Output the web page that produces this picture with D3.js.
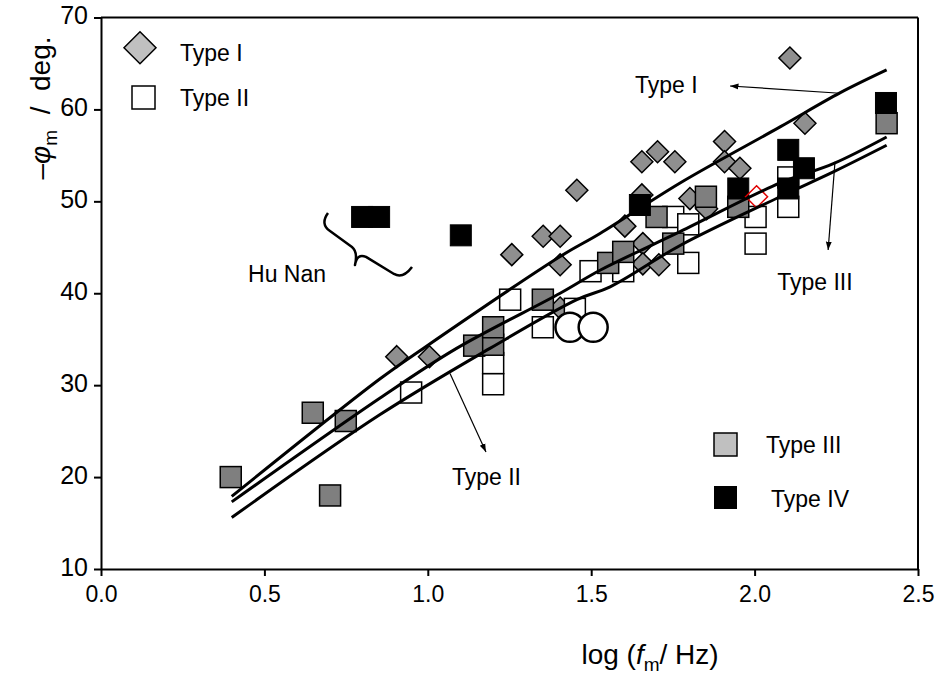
<!DOCTYPE html>
<html><head><meta charset="utf-8">
<script src="https://cdn.jsdelivr.net/npm/d3@7"></script>
<style>
body{margin:0;background:#fff;}
text{font-family:"Liberation Sans",Arial,sans-serif;fill:#000;}
</style></head>
<body><svg id="c" width="942" height="681"></svg>
<script>
// ---- data ----
const xTicks = [0.0, 0.5, 1.0, 1.5, 2.0, 2.5];
const yTicks = [10, 20, 30, 40, 50, 60, 70];

const typeI = [[0.905,33.1],[1.005,33.1],[1.257,44.2],[1.353,46.2],[1.405,46.2],[1.405,43.1],[1.405,38.4],
  [1.456,51.2],[1.603,47.3],[1.655,54.3],[1.703,55.4],[1.756,54.3],[1.655,50.7],[1.658,45.4],[1.658,43.2],
  [1.707,43.1],[1.802,50.3],[1.853,49.2],[1.908,56.5],[1.908,54.3],[1.955,53.6],[2.108,65.6],[2.154,58.5]];
const typeII = [[0.949,29.2],[1.200,32.4],[1.200,30.1],[1.252,39.3],[1.352,36.3],[1.450,38.3],[1.498,42.4],
  [1.598,42.4],[1.751,48.3],[1.797,47.5],[1.797,43.3],[2.003,48.3],[2.003,45.4],[2.103,49.4],[2.103,52.6]];
const typeIII = [[0.397,20.0],[0.648,27.0],[0.701,18.0],[0.749,26.1],[1.142,34.3],[1.200,34.4],[1.200,36.3],
  [1.352,39.3],[1.552,43.3],[1.598,44.5],[1.700,48.3],[1.751,45.4],[1.851,50.5],[1.950,49.4],[2.404,58.5]];
const typeIV = [[0.799,48.3],[0.851,48.3],[1.101,46.3],[1.649,49.6],[1.950,51.4],[2.103,55.6],[2.151,53.6],
  [2.103,51.4],[2.402,60.7]];
const circlesData = [[1.435,36.3],[1.506,36.3]];
const redDiamond = [[2.006,50.5]];

const curveTypeI = [[0.400,17.9],[0.854,30.7],[0.986,34.0],[1.405,44.0],[1.527,46.5],[1.772,52.0],[2.078,58.1],[2.261,61.8],[2.404,64.3]];
const curveTypeIII = [[0.400,17.3],[0.854,28.6],[1.088,34.0],[1.405,40.0],[1.527,42.5],[1.772,46.7],[2.078,52.0],[2.241,54.1],[2.404,57.0]];
const curveTypeII = [[0.400,15.6],[0.854,26.8],[1.190,34.0],[1.456,39.3],[1.558,40.7],[1.772,45.2],[2.078,50.5],[2.241,53.2],[2.404,56.1]];

// annotations (data units)
const annotations = [
  {text:"Type I", tx:1.634, ty:61.8, from:[2.261,61.76], to:[1.925,62.55]},
  {text:"Type III", tx:2.069, ty:40.35, from:[2.246,54.31], to:[2.225,44.70]},
  {text:"Type II", tx:1.074, ty:19.1, from:[1.068,31.28], to:[1.178,22.72]}
];
const huNan = {text:"Hu Nan", tx:0.450, ty:41.2};
const brace = [[0.6946,48.73],[0.6701,47.53],[0.7007,46.77],[0.7680,45.03],[0.7864,44.49],[0.7772,43.07],
  [0.7834,44.38],[0.8109,43.95],[0.8966,42.10],[0.9241,41.55],[0.9517,42.86]];

// ---- chart ----
const svg = d3.select("#c");
const x = d3.scaleLinear().domain([0,2.5]).range([101,918]);
const y = d3.scaleLinear().domain([10,70]).range([569,17.5]);

const defs = svg.append("defs");
defs.append("marker").attr("id","arr").attr("viewBox","0 0 10 10").attr("refX",10).attr("refY",5)
  .attr("markerWidth",7).attr("markerHeight",7).attr("orient","auto-start-reverse")
  .append("path").attr("d","M0,1.5 L10,5 L0,8.5 z").attr("fill","#000");

// axes
const gx = svg.append("g").attr("transform",`translate(0,${y(10)})`)
  .call(d3.axisBottom(x).tickValues(xTicks).tickFormat(d3.format(".1f")).tickSize(7).tickSizeOuter(0).tickPadding(10));
const gy = svg.append("g").attr("transform",`translate(${x(0)},0)`)
  .call(d3.axisLeft(y).tickValues(yTicks).tickFormat(d3.format("d")).tickSize(7).tickSizeOuter(0).tickPadding(6));
[gx,gy].forEach(g=>{
  g.selectAll("path.domain").attr("stroke","#000").attr("stroke-width",2);
  g.selectAll(".tick line").attr("stroke","#000").attr("stroke-width",2);
  g.selectAll(".tick text").attr("font-size",23).attr("font-family","Liberation Sans, Arial, sans-serif").attr("fill","#000");
});
gy.selectAll(".tick text").attr("font-size",25).attr("dy","0.25em");
// frame
svg.append("line").attr("x1",x(0)).attr("x2",x(2.5)).attr("y1",y(70)).attr("y2",y(70)).attr("stroke","#000").attr("stroke-width",2);
svg.append("line").attr("x1",x(2.5)).attr("x2",x(2.5)).attr("y1",y(70)).attr("y2",y(10)).attr("stroke","#000").attr("stroke-width",2);

// axis titles
const xt = svg.append("text").attr("x",650).attr("y",664).attr("text-anchor","middle").attr("font-size",28);
xt.append("tspan").text("log (");
xt.append("tspan").attr("font-style","italic").text("f");
xt.append("tspan").attr("font-size",19).attr("dy",7).text("m");
xt.append("tspan").attr("dy",-7).text("/ Hz)");

const yt = svg.append("text").attr("transform","translate(50,108) rotate(-90)").attr("text-anchor","middle")
  .attr("font-size",28).style("white-space","pre");
yt.append("tspan").text("\u2013");
yt.append("tspan").attr("font-style","italic").text("\u03C6");
yt.append("tspan").attr("font-size",19).attr("dy",7).text("m");
yt.append("tspan").attr("dy",-7).text("  /  deg.");

// markers
const S = 21;
const diamondPath = (cx,cy,r)=>`M${cx},${cy-r}L${cx+r},${cy}L${cx},${cy+r}L${cx-r},${cy}Z`;
svg.append("g").selectAll("path").data(typeI).join("path")
  .attr("d",d=>diamondPath(x(d[0]),y(d[1]),11)).attr("fill","#8f8f8f").attr("stroke","#000").attr("stroke-width",1.5);
svg.append("g").selectAll("rect").data(typeII).join("rect")
  .attr("x",d=>x(d[0])-S/2).attr("y",d=>y(d[1])-S/2).attr("width",S).attr("height",S)
  .attr("fill","#fff").attr("stroke","#000").attr("stroke-width",1.5);
svg.append("g").selectAll("rect").data(typeIII).join("rect")
  .attr("x",d=>x(d[0])-S/2).attr("y",d=>y(d[1])-S/2).attr("width",S).attr("height",S)
  .attr("fill","#7f7f7f").attr("stroke","#000").attr("stroke-width",1.5);
svg.append("g").selectAll("rect").data(typeIV).join("rect")
  .attr("x",d=>x(d[0])-S/2).attr("y",d=>y(d[1])-S/2).attr("width",S).attr("height",S)
  .attr("fill","#000").attr("stroke","#000").attr("stroke-width",1);
svg.append("g").selectAll("circle").data(circlesData).join("circle")
  .attr("cx",d=>x(d[0])).attr("cy",d=>y(d[1])).attr("r",14.5)
  .attr("fill","#fff").attr("stroke","#000").attr("stroke-width",2.5);
svg.append("g").selectAll("path").data(redDiamond).join("path")
  .attr("d",d=>diamondPath(x(d[0]),y(d[1]),11)).attr("fill","none").attr("stroke","#e00000").attr("stroke-width",1.5);

// curves
const line = d3.line().x(d=>x(d[0])).y(d=>y(d[1])).curve(d3.curveCatmullRom);
[curveTypeI,curveTypeIII,curveTypeII].forEach(c=>{
  svg.append("path").attr("d",line(c)).attr("fill","none").attr("stroke","#000").attr("stroke-width",3);
});

// annotations
annotations.forEach(a=>{
  svg.append("text").attr("x",x(a.tx)).attr("y",y(a.ty)).attr("font-size",23).text(a.text);
  svg.append("line").attr("x1",x(a.from[0])).attr("y1",y(a.from[1])).attr("x2",x(a.to[0])).attr("y2",y(a.to[1]))
    .attr("stroke","#000").attr("stroke-width",1.2).attr("marker-end","url(#arr)");
});
svg.append("text").attr("x",x(huNan.tx)).attr("y",y(huNan.ty)).attr("font-size",23).text(huNan.text);
const b = brace.map(p=>[x(p[0]),y(p[1])]);
const bp = `M${b[0]}Q${b[1]} ${b[2]}L${b[3]}Q${b[4]} ${b[5]}Q${b[6]} ${b[7]}L${b[8]}Q${b[9]} ${b[10]}`;
svg.append("path").attr("d",bp).attr("fill","none").attr("stroke","#000").attr("stroke-width",2.5).attr("stroke-linejoin","round");

// legend
const lg = svg.append("g");
lg.append("path").attr("d",diamondPath(140,47.7,16)).attr("fill","#c0c0c0").attr("stroke","#000").attr("stroke-width",1.5);
lg.append("text").attr("x",180).attr("y",61).attr("font-size",23).text("Type I");
lg.append("rect").attr("x",132).attr("y",86).attr("width",23).attr("height",23).attr("fill","#fff").attr("stroke","#000").attr("stroke-width",1.5);
lg.append("text").attr("x",180).attr("y",106).attr("font-size",23).text("Type II");
lg.append("rect").attr("x",714).attr("y",433).attr("width",23).attr("height",23).attr("fill","#c0c0c0").attr("stroke","#000").attr("stroke-width",1.5);
lg.append("text").attr("x",766).attr("y",453).attr("font-size",23).text("Type III");
lg.append("rect").attr("x",714).attr("y",486).attr("width",23).attr("height",23).attr("fill","#000");
lg.append("text").attr("x",771).attr("y",507).attr("font-size",23).text("Type IV");
</script></body></html>
